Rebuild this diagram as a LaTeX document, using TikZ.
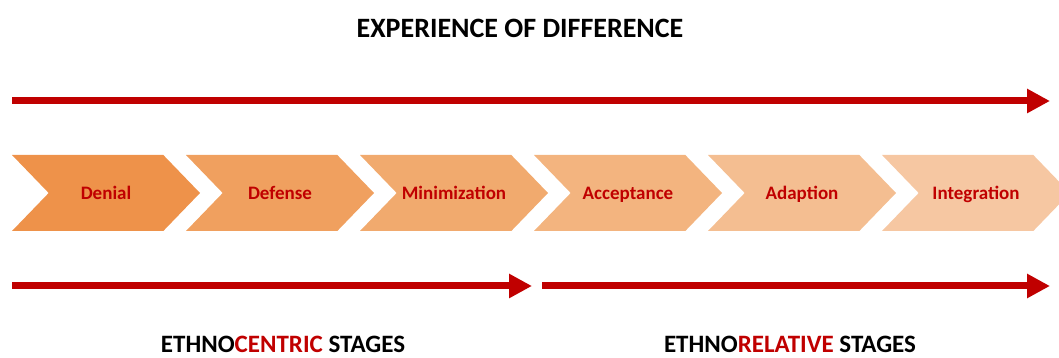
\documentclass[tikz,border=0pt]{standalone}
\usepackage{xcolor}
\usepackage{fontspec}
\setmainfont{Carlito}
\usepackage{tikz}
\usetikzlibrary{shapes.symbols, arrows.meta, positioning}
\definecolor{ebred}{RGB}{192,0,0}
\definecolor{ebstageA}{RGB}{238,146,74}
\definecolor{ebstageB}{RGB}{240,160,95}
\definecolor{ebstageC}{RGB}{241,170,110}
\definecolor{ebstageD}{RGB}{243,180,127}
\definecolor{ebstageE}{RGB}{244,190,145}
\definecolor{ebstageF}{RGB}{246,199,162}

\begin{document}
\begin{tikzpicture}[
  x=1pt, y=1pt,
  every node/.style={font=\bfseries},
  stage/.style={signal, signal from=west, signal to=east,
                signal pointer angle=92, draw=none, inner sep=0pt,
                minimum width=188pt, minimum height=76pt,
                text height=17pt, text depth=4pt,
                text=ebred, font=\bfseries\fontsize{19}{22}\selectfont},
  heading/.style={font=\bfseries\fontsize{28}{32}\selectfont, anchor=base},
  group/.style={font=\bfseries\fontsize{25}{30}\selectfont, anchor=base},
  span/.style={-{Triangle[length=23pt,width=23pt]}, line width=7pt, color=ebred},
]
\useasboundingbox (0,0) rectangle (1059,358);
\clip (0,0) rectangle (1059,358);

% Title
\node[heading] (title) at (520,320) {EXPERIENCE OF DIFFERENCE};

% Stages
\node[stage, fill=ebstageA] (denial) at (106,165) {Denial};
\node[stage, fill=ebstageB] (defense) at (280,165) {Defense};
\node[stage, fill=ebstageC] (minim) at (454,165) {Minimization};
\node[stage, fill=ebstageD] (accept) at (628,165) {Acceptance};
\node[stage, fill=ebstageE] (adapt) at (802,165) {Adaption};
\node[stage, fill=ebstageF] (integ) at (976,165) {Integration};

% ── Arrows ──
\coordinate (topL) at (12,257);
\coordinate (topR) at (1050,257);
\coordinate (centL) at (12,72);
\coordinate (centR) at (532,72);
\coordinate (relL) at (542,72);
\coordinate (relR) at (1050,72);
\draw[span] (topL) -- (topR);
\draw[span] (centL) -- (centR);
\draw[span] (relL) -- (relR);

% Groups
\node[group] (centric) at (283,5)
  {ETHNO\textcolor{ebred}{CENTRIC} STAGES};
\node[group] (relative) at (790,5)
  {ETHNO\textcolor{ebred}{RELATIVE} STAGES};

\end{tikzpicture}
\end{document}
